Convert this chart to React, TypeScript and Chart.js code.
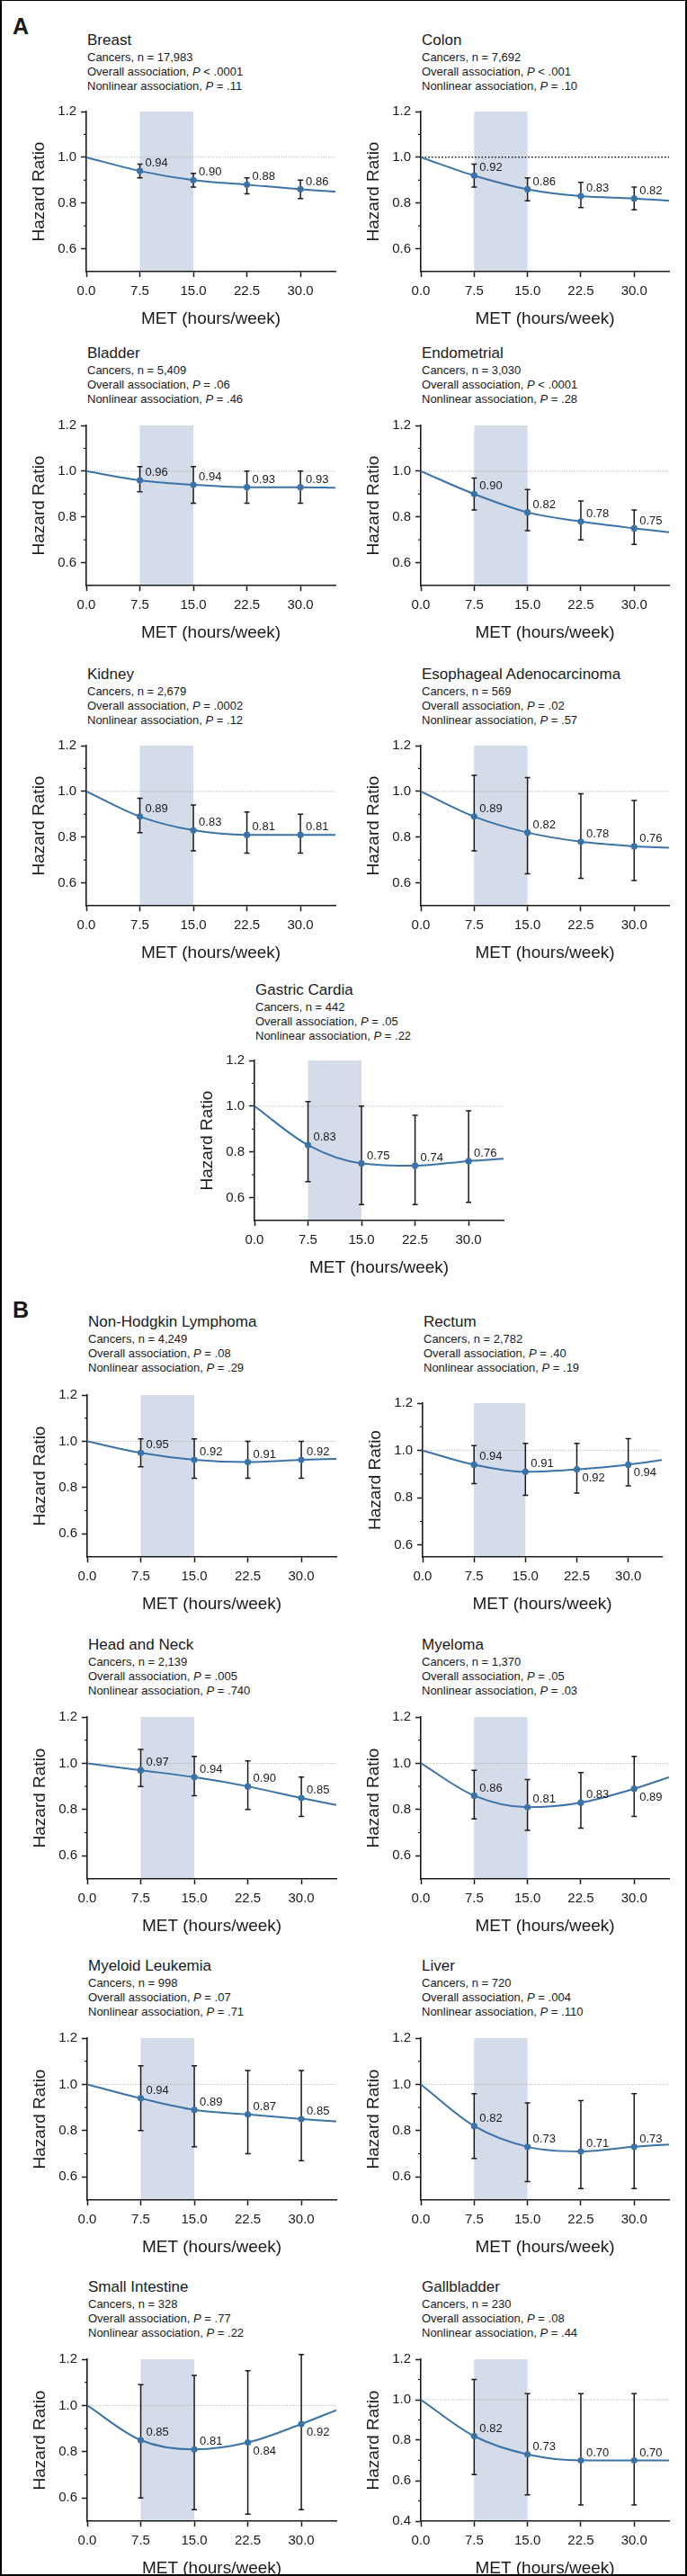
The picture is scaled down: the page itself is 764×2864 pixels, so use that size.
import React, { useEffect, useRef } from "react";
import { Chart, registerables } from "chart.js";

Chart.register(...registerables);

// ---------------- data ----------------
const cancerNames = [
  "Breast", "Colon", "Bladder", "Endometrial", "Kidney", "Esophageal Adenocarcinoma", "Gastric Cardia",
  "Non-Hodgkin Lymphoma", "Rectum", "Head and Neck", "Myeloma", "Myeloid Leukemia", "Liver", "Small Intestine", "Gallbladder",
];
const cancerCounts = ["17,983", "7,692", "5,409", "3,030", "2,679", "569", "442", "4,249", "2,782", "2,139", "1,370", "998", "720", "328", "230"];
const overallOp = ["<", "<", "=", "<", "=", "=", "=", "=", "=", "=", "=", "=", "=", "=", "="];
const overallP = [".0001", ".001", ".06", ".0001", ".0002", ".02", ".05", ".08", ".40", ".005", ".05", ".07", ".004", ".77", ".08"];
const nonlinearP = [".11", ".10", ".46", ".28", ".12", ".57", ".22", ".29", ".19", ".740", ".03", ".71", ".110", ".22", ".44"];

const metLevels = [7.5, 15, 22.5, 30];
const metTicks = [0, 7.5, 15, 22.5, 30];
const metAxisMax = 34.9;
const bandRange = [7.5, 15];

const hazardRatio = [
  [0.94, 0.90, 0.88, 0.86],
  [0.92, 0.86, 0.83, 0.82],
  [0.96, 0.94, 0.93, 0.93],
  [0.90, 0.82, 0.78, 0.75],
  [0.89, 0.83, 0.81, 0.81],
  [0.89, 0.82, 0.78, 0.76],
  [0.83, 0.75, 0.74, 0.76],
  [0.95, 0.92, 0.91, 0.92],
  [0.94, 0.91, 0.92, 0.94],
  [0.97, 0.94, 0.90, 0.85],
  [0.86, 0.81, 0.83, 0.89],
  [0.94, 0.89, 0.87, 0.85],
  [0.82, 0.73, 0.71, 0.73],
  [0.85, 0.81, 0.84, 0.92],
  [0.82, 0.73, 0.70, 0.70],
];
const ciLower = [
  [0.91, 0.87, 0.84, 0.82],
  [0.87, 0.81, 0.78, 0.77],
  [0.91, 0.86, 0.86, 0.86],
  [0.83, 0.74, 0.70, 0.68],
  [0.82, 0.74, 0.73, 0.73],
  [0.74, 0.64, 0.62, 0.61],
  [0.67, 0.57, 0.57, 0.58],
  [0.89, 0.84, 0.84, 0.84],
  [0.86, 0.81, 0.82, 0.85],
  [0.90, 0.86, 0.80, 0.77],
  [0.76, 0.71, 0.72, 0.77],
  [0.80, 0.73, 0.70, 0.67],
  [0.68, 0.58, 0.55, 0.55],
  [0.60, 0.55, 0.53, 0.55],
  [0.63, 0.53, 0.48, 0.48],
];
const ciUpper = [
  [0.97, 0.93, 0.91, 0.90],
  [0.97, 0.91, 0.89, 0.87],
  [1.02, 1.02, 1.00, 1.00],
  [0.97, 0.92, 0.87, 0.83],
  [0.97, 0.94, 0.91, 0.90],
  [1.07, 1.06, 0.99, 0.96],
  [1.02, 1.00, 0.96, 0.98],
  [1.01, 1.01, 1.00, 1.00],
  [1.02, 1.03, 1.03, 1.05],
  [1.06, 1.03, 1.01, 0.94],
  [0.97, 0.93, 0.96, 1.03],
  [1.08, 1.08, 1.06, 1.06],
  [0.96, 0.92, 0.93, 0.96],
  [1.09, 1.13, 1.15, 1.22],
  [1.10, 1.03, 1.03, 1.03],
];
// value of the fitted curve at the right end of the x axis
const curveEnd = [0.85, 0.81, 0.928, 0.733, 0.81, 0.754, 0.77, 0.924, 0.96, 0.82, 0.94, 0.84, 0.74, 0.98, 0.70];

const yAxisMin = [0.5, 0.5, 0.5, 0.5, 0.5, 0.5, 0.5, 0.5, 0.55, 0.5, 0.5, 0.5, 0.5, 0.5, 0.4];
const yAxisMax = [1.2, 1.2, 1.2, 1.2, 1.2, 1.2, 1.2, 1.2, 1.2, 1.2, 1.2, 1.2, 1.2, 1.2, 1.2];
const yTicksDefault = [0.6, 0.8, 1.0, 1.2];
const yTicksGallbladder = [0.4, 0.6, 0.8, 1.0, 1.2];
const yMinorTicks = [0.5, 0.7, 0.9, 1.1];
const referenceHR = 1.0;

// label placement (true = below the point)
const labelBelow = [
  [false, false, false, false], [false, false, false, false], [false, false, false, false], [false, false, false, false],
  [false, false, false, false], [false, false, false, false], [false, false, false, false], [false, false, false, false],
  [false, false, true, true], [false, false, false, false], [false, false, false, true], [false, false, false, false],
  [false, false, false, false], [false, false, true, true], [false, false, false, false],
];

// ---------------- layout & style ----------------
// [axisX, plotTop, plotHeight, plotWidth, titleCenterY]
const panelLayout = [
  [96, 122, 180, 277, 45],
  [468, 122, 180, 276, 45],
  [96, 471, 180, 277, 393],
  [468, 471, 180, 276, 393],
  [96, 827, 180, 277, 750],
  [468, 827, 180, 276, 750],
  [283, 1177, 180, 277, 1101],
  [97, 1549, 182, 277, 1470],
  [470, 1558, 173, 266, 1470],
  [97, 1907, 182, 277, 1829],
  [468, 1907, 182, 276, 1829],
  [97, 2264, 182, 277, 2186],
  [468, 2264, 182, 276, 2186],
  [97, 2621, 182, 277, 2543],
  [468, 2621, 182, 276, 2543],
];
const darkRefPanels = [1];

const FONT = "'Liberation Sans', Arial, Helvetica, sans-serif";
const INK = "#1a1a1a";
const BLUE = "#3b72a8";
const BAND = "#d5dce9";
const Y_W = 80;
const X_H = 75;
const PAD_T = 12;
const PAD_R = 12;

function HRPanel({ i }: { i: number }) {
  const ref = useRef<HTMLCanvasElement | null>(null);
  const [axisX, plotTop, plotH, plotW] = panelLayout[i];
  const W = Y_W + plotW + PAD_R;
  const H = PAD_T + plotH + X_H;

  useEffect(() => {
    const canvas = ref.current;
    if (!canvas) return;
    const xs = [0, ...metLevels, metAxisMax];
    const ys = [referenceHR, ...hazardRatio[i], curveEnd[i]];
    const yMin = yAxisMin[i];
    const yMax = yAxisMax[i];
    const dark = darkRefPanels.includes(i);
    const yTicks = i === 14 ? yTicksGallbladder : yTicksDefault;

    const decor = {
      id: "hrDecor",
      beforeDatasetsDraw(c: any) {
        const { ctx } = c;
        const x = c.scales.x;
        const y = c.scales.y;
        ctx.save();
        const bx1 = x.getPixelForValue(bandRange[0]);
        const bx2 = x.getPixelForValue(bandRange[1]);
        const by1 = y.getPixelForValue(yMax);
        const by2 = y.getPixelForValue(yMin) - 1;
        ctx.fillStyle = BAND;
        ctx.fillRect(bx1, by1, bx2 - bx1, by2 - by1);
        const ry = y.getPixelForValue(referenceHR);
        ctx.beginPath();
        ctx.setLineDash(dark ? [1.5, 2.2] : [1, 1.6]);
        ctx.lineWidth = dark ? 1.5 : 1;
        ctx.strokeStyle = dark ? "#111" : "#a8a8a8";
        ctx.moveTo(x.left + 1, ry);
        ctx.lineTo(x.right, ry);
        ctx.stroke();
        ctx.setLineDash([]);
        ctx.strokeStyle = INK;
        ctx.lineWidth = 1.5;
        metLevels.forEach((m, k) => {
          const px = x.getPixelForValue(m);
          const pl = y.getPixelForValue(ciLower[i][k]);
          const ph = y.getPixelForValue(ciUpper[i][k]);
          ctx.beginPath();
          ctx.moveTo(px, pl);
          ctx.lineTo(px, ph);
          ctx.moveTo(px - 3, pl);
          ctx.lineTo(px + 3, pl);
          ctx.moveTo(px - 3, ph);
          ctx.lineTo(px + 3, ph);
          ctx.stroke();
        });
        ctx.restore();
      },
      afterDatasetsDraw(c: any) {
        const { ctx } = c;
        const x = c.scales.x;
        const y = c.scales.y;
        ctx.save();
        ctx.font = `13px ${FONT}`;
        ctx.fillStyle = INK;
        ctx.textAlign = "left";
        ctx.textBaseline = "middle";
        metLevels.forEach((m, k) => {
          const px = x.getPixelForValue(m);
          const py = y.getPixelForValue(hazardRatio[i][k]);
          const dy = labelBelow[i][k] ? 9.5 : -8.5;
          ctx.fillText(hazardRatio[i][k].toFixed(2), px + 6, py + dy);
        });
        ctx.restore();
      },
      afterDraw(c: any) {
        const { ctx } = c;
        const y = c.scales.y;
        const left = c.chartArea.left;
        ctx.save();
        ctx.strokeStyle = INK;
        ctx.lineWidth = 1.2;
        yMinorTicks.forEach((v) => {
          if (v <= yMin + 1e-6 || v > yMax) return;
          const py = y.getPixelForValue(v);
          ctx.beginPath();
          ctx.moveTo(left - 3, py);
          ctx.lineTo(left, py);
          ctx.stroke();
        });
        ctx.restore();
      },
    };

    const chart = new Chart(canvas, {
      type: "line",
      data: {
        datasets: [
          {
            data: xs.map((xv, k) => ({ x: xv, y: ys[k] })),
            borderColor: BLUE,
            backgroundColor: BLUE,
            borderWidth: 2,
            pointRadius: xs.map((_, k) => (k === 0 || k === xs.length - 1 ? 0 : 3.6)),
            pointBorderWidth: 0,
            pointBackgroundColor: BLUE,
            pointHoverRadius: 0,
            cubicInterpolationMode: "monotone",
            fill: false,
          } as any,
        ],
      },
      options: {
        responsive: false,
        animation: false,
        events: [],
        layout: { padding: { top: PAD_T, right: PAD_R, left: 0, bottom: 0 } },
        plugins: { legend: { display: false }, tooltip: { enabled: false } },
        scales: {
          x: {
            type: "linear",
            min: 0,
            max: metAxisMax,
            afterBuildTicks: (s: any) => {
              s.ticks = metTicks.map((v) => ({ value: v }));
            },
            afterFit: (s: any) => {
              s.height = X_H;
            },
            ticks: {
              callback: (v: any) => Number(v).toFixed(1),
              font: { family: FONT, size: 15 },
              color: INK,
              padding: 6.5,
              maxRotation: 0,
              autoSkip: false,
            },
            grid: { drawOnChartArea: false, drawTicks: true, tickLength: 6, tickColor: INK, tickWidth: 1.5 },
            border: { display: true, color: INK, width: 1.6 },
            title: {
              display: true,
              text: "MET (hours/week)",
              font: { family: FONT, size: 19 },
              color: INK,
              padding: { top: 0, bottom: 11 },
            },
          },
          y: {
            type: "linear",
            min: yMin,
            max: yMax,
            afterBuildTicks: (s: any) => {
              s.ticks = yTicks.map((v) => ({ value: v }));
            },
            afterFit: (s: any) => {
              s.width = Y_W;
            },
            ticks: {
              callback: (v: any) => Number(v).toFixed(1),
              font: { family: FONT, size: 15 },
              color: INK,
              padding: 5,
              autoSkip: false,
            },
            grid: { drawOnChartArea: false, drawTicks: true, tickLength: 6, tickColor: INK, tickWidth: 1.5 },
            border: { display: true, color: INK, width: 1.6 },
            title: {
              display: true,
              text: "Hazard Ratio",
              font: { family: FONT, size: 19 },
              color: INK,
              padding: { top: 16, bottom: 0 },
            },
          },
        },
      } as any,
      plugins: [decor],
    });
    return () => chart.destroy();
  }, [i]);

  return (
    <canvas
      ref={ref}
      width={W}
      height={H}
      style={{ position: "absolute", left: axisX - Y_W, top: plotTop - PAD_T, width: W, height: H }}
    />
  );
}

function PanelText({ i }: { i: number }) {
  const [axisX, , , , titleY] = panelLayout[i];
  return (
    <>
      <div style={{ position: "absolute", left: axisX + 1, top: titleY - 11, fontSize: 17, lineHeight: "22px", whiteSpace: "nowrap" }}>
        {cancerNames[i]}
      </div>
      <div style={{ position: "absolute", left: axisX + 1, top: titleY + 10.5, fontSize: 13, lineHeight: "16px", whiteSpace: "nowrap" }}>
        Cancers, n = {cancerCounts[i]}
        <br />
        Overall association, <i>P</i> {overallOp[i]} {overallP[i]}
        <br />
        Nonlinear association, <i>P</i> = {nonlinearP[i]}
      </div>
    </>
  );
}

export default function App() {
  return (
    <div
      style={{
        position: "absolute",
        left: 0,
        top: 0,
        width: 764,
        height: 2864,
        background: "#fff",
        fontFamily: FONT,
        color: INK,
        overflow: "hidden",
      }}
    >
      <div style={{ position: "absolute", left: 14, top: 14, fontSize: 25, fontWeight: "bold", lineHeight: "30px" }}>A</div>
      <div style={{ position: "absolute", left: 14, top: 1441, fontSize: 25, fontWeight: "bold", lineHeight: "30px" }}>B</div>
      {cancerNames.map((_, i) => (
        <PanelText i={i} key={"t" + i} />
      ))}
      {cancerNames.map((_, i) => (
        <HRPanel i={i} key={"c" + i} />
      ))}
      <div
        style={{
          position: "absolute",
          left: 0,
          top: 0,
          width: 764,
          height: 2864,
          boxSizing: "border-box",
          borderTop: "1px solid #000",
          borderLeft: "2px solid #000",
          borderRight: "2px solid #000",
          borderBottom: "2px solid #000",
          pointerEvents: "none",
        }}
      />
    </div>
  );
}
